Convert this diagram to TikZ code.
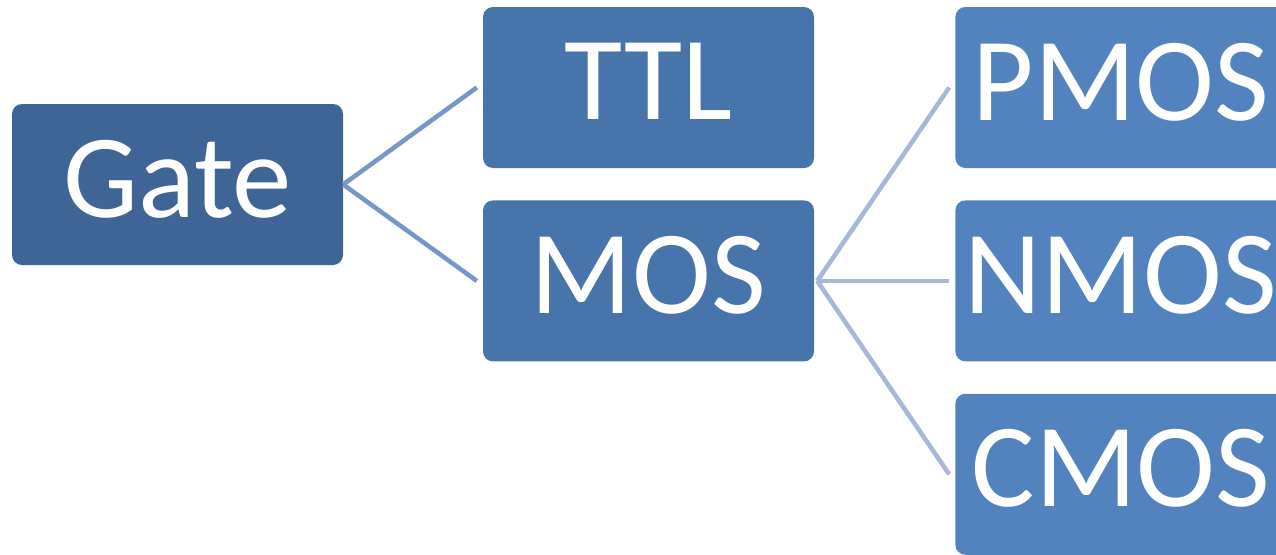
\documentclass[tikz,border=0pt]{standalone}
\usepackage{fontspec}
\setmainfont{Carlito}
\usetikzlibrary{positioning}

\definecolor{gateblue}{HTML}{3E6596}
\definecolor{midblue}{HTML}{4874AC}
\definecolor{leafblue}{HTML}{5283BE}
\definecolor{linkdark}{HTML}{7597C8}
\definecolor{linklight}{HTML}{A5B8D7}

\begin{document}
\begin{tikzpicture}[
    x=1pt, y=-1pt,
    every node/.style={rounded corners=10pt, minimum width=331pt, minimum height=161pt,
        inner sep=0pt, text depth=12pt, text=white, font=\fontsize{119}{128}\selectfont},
    link/.style={line width=4.5pt}
]
\useasboundingbox (0,0) rectangle (1276,554);

% Nodes
\node (gate) [fill=gateblue] at (177.5,184.5) {Gate};
\node (ttl) [fill=midblue] at (648.5,87.5) {TTL};
\node (mos) [fill=midblue, below=32pt of ttl] {MOS};
\node (pmos) [fill=leafblue, right=141pt of ttl] {PMOS};
\node (nmos) [fill=leafblue, right=141pt of mos] {NMOS};
\node (cmos) [fill=leafblue, below=32pt of nmos] {CMOS};

% Edges
\draw [link, linkdark] (gate.east) -- ([xshift=-6pt]ttl.west);
\draw [link, linkdark] (gate.east) -- ([xshift=-6pt]mos.west);
\draw [link, linklight] ([xshift=3pt]mos.east) -- ([xshift=-6pt]pmos.west);
\draw [link, linklight] ([xshift=3pt]mos.east) -- ([xshift=-6pt]nmos.west);
\draw [link, linklight] ([xshift=3pt]mos.east) -- ([xshift=-6pt]cmos.west);

\end{tikzpicture}
\end{document}
